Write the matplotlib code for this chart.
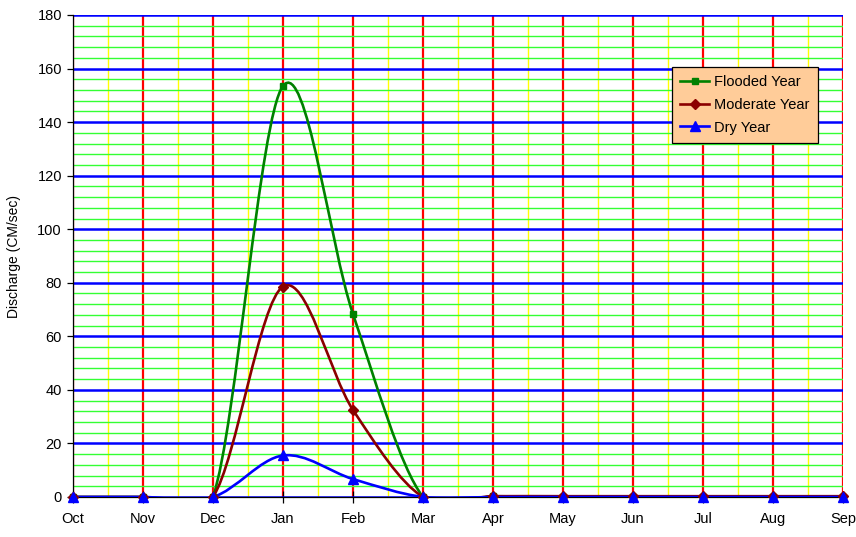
import numpy as np
import matplotlib.pyplot as plt
from matplotlib.path import Path
from matplotlib.patches import PathPatch
from matplotlib.lines import Line2D
from matplotlib.ticker import MultipleLocator

plt.rcParams['font.family'] = ['Liberation Sans', 'DejaVu Sans']

months = ['Oct', 'Nov', 'Dec', 'Jan', 'Feb', 'Mar', 'Apr', 'May', 'Jun', 'Jul', 'Aug', 'Sep']
flooded = [0, 0, 0, 153.5, 68.3, 0, 0.3, 0, 0, 0, 0, 0]
moderate = [0, 0, 0, 78.6, 32.5, 0, 0.3, 0.3, 0.3, 0.3, 0.3, 0.3]
dry = [0, 0, 0, 15.5, 6.7, 0, 0, 0, 0, 0, 0, 0]

series = [
    ('Flooded Year', flooded, 'green', 's', 5),
    ('Moderate Year', moderate, '#8B0000', 'D', 5),
    ('Dry Year', dry, 'blue', '^', 7),
]


def smooth_path(x, y):
    # Bezier segments through every point, control points from the neighbours
    n = len(x)
    verts = [(x[0], y[0])]
    codes = [Path.MOVETO]
    for i in range(n - 1):
        i0 = max(i - 1, 0)
        i3 = min(i + 2, n - 1)
        c1 = (x[i] + (x[i + 1] - x[i0]) / 6, y[i] + (y[i + 1] - y[i0]) / 6)
        c2 = (x[i + 1] - (x[i3] - x[i]) / 6, y[i + 1] - (y[i3] - y[i]) / 6)
        verts += [c1, c2, (x[i + 1], y[i + 1])]
        codes += [Path.CURVE4] * 3
    return Path(verts, codes)


fig = plt.figure(figsize=(8.56, 5.37), dpi=100)
ax = fig.add_axes([73 / 856, 1 - 497 / 537, 770 / 856, 482 / 537])

xpos = np.arange(len(months))

for label, vals, color, mk, ms in series:
    ax.add_patch(PathPatch(smooth_path(xpos, vals), facecolor='none',
                           edgecolor=color, lw=1.9, zorder=3))
for label, vals, color, mk, ms in series:
    ax.plot(xpos, vals, ls='none', marker=mk, color=color, ms=ms,
            mec=color, zorder=4, clip_on=False)

ax.set_xlim(0, 11)
ax.set_ylim(0, 180)
ax.set_xticks(xpos)
ax.set_xticklabels(months)
ax.xaxis.set_minor_locator(MultipleLocator(0.5))
ax.yaxis.set_major_locator(MultipleLocator(20))
ax.yaxis.set_minor_locator(MultipleLocator(4))

ax.set_axisbelow(True)
ax.grid(which='major', axis='x', color='red', lw=1.6)
ax.grid(which='minor', axis='x', color='yellow', lw=1.0)
ax.grid(which='major', axis='y', color='blue', lw=1.8)
ax.grid(which='minor', axis='y', color='#33ff33', lw=1.0)

ax.tick_params(axis='x', which='major', direction='inout', length=8, width=0.9,
               labelsize=10.5, pad=7)
ax.tick_params(axis='y', which='major', direction='out', length=4, width=0.9,
               labelsize=10.5, pad=4)
ax.tick_params(which='minor', length=0)

for side in ['top', 'right']:
    ax.spines[side].set_visible(False)
for side in ['left', 'bottom']:
    ax.spines[side].set_linewidth(0.9)
    ax.spines[side].set_zorder(2.5)

ax.set_ylabel('Discharge (CM/sec)', fontsize=10, labelpad=12)

handles = [Line2D([], [], color=c, lw=1.9, marker=m, ms=ms)
           for _, _, c, m, ms in series]
leg = ax.legend(handles, [s[0] for s in series], loc='upper left',
                bbox_to_anchor=(0.778, 0.892), fontsize=10.5, frameon=True,
                fancybox=False, framealpha=1, facecolor='#FFCC99',
                edgecolor='black', handlelength=2.0, borderpad=0.55,
                labelspacing=0.6, handletextpad=0.35, borderaxespad=0)
leg.get_frame().set_linewidth(0.9)
leg.set_zorder(5)

fig.savefig('out.png', dpi=100)
